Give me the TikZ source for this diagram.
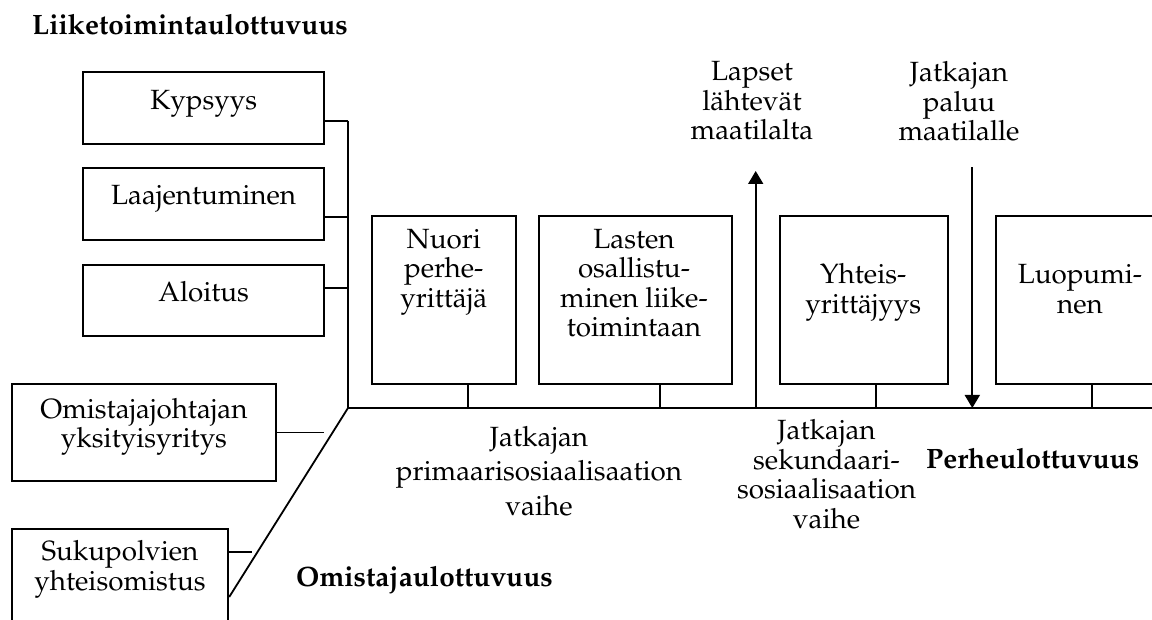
\documentclass[tikz,border=0pt]{standalone}
\usepackage[T1]{fontenc}
\usepackage{mathpazo}
\usetikzlibrary{arrows.meta}
\tikzset{
  box/.style={draw, line width=1.8pt, inner sep=0pt},
  ln/.style={line width=1.8pt},
  lbl/.style={anchor=base, align=center, inner sep=0pt, font=\fontsize{27.8}{29.5}\selectfont},
  lblwide/.style={lbl, font=\fontsize{27.8}{34.5}\selectfont},
  ttl/.style={anchor=base west, inner sep=0pt, font=\fontsize{28}{29.5}\selectfont\bfseries},
  arr/.style={ln, -{Triangle[length=13pt,width=15pt]}},
}
\begin{document}
\begin{tikzpicture}[x=1pt,y=-1pt]
\useasboundingbox (0,0) rectangle (1152,620);
\clip (0,0) rectangle (1152,620);

% boxes
\node[box, minimum width=240.7pt, minimum height=72.6pt] (kyp) at (203.7,108) {};
\node[box, minimum width=240.7pt, minimum height=71.7pt] (laa) at (203.7,204.2) {};
\node[box, minimum width=240.7pt, minimum height=71pt] (alo) at (203.7,300.5) {};
\node[box, minimum width=264.3pt, minimum height=96.4pt] (omj) at (143.8,432.5) {};
\node[box, minimum width=216.6pt, minimum height=131pt] (suk) at (120,594.5) {};
\node[box, minimum width=144.3pt, minimum height=168pt] (nuo) at (443.8,300) {};
\node[box, minimum width=193pt, minimum height=168pt] (las) at (635.8,300) {};
\node[box, minimum width=168.3pt, minimum height=168pt] (yht) at (864.2,300) {};
\node[box, minimum width=224.3pt, minimum height=168pt] (luo) at (1107.8,300) {};

% coordinates
\coordinate (k1) at (348,120.7);
\coordinate (l1) at (348,216.7);
\coordinate (a1) at (348,288.3);
\coordinate (corner) at (348,408);
\coordinate (axisEnd) at (1160,408);
\coordinate (dEnd) at (228.3,597);
\coordinate (o1) at (324,432.5);
\coordinate (s1) at (252,552);
\coordinate (t1) at (467.7,408);
\coordinate (t2) at (660,408);
\coordinate (t3) at (876,408);
\coordinate (t4) at (1092.3,408);
\coordinate (upB) at (755.7,408);
\coordinate (upT) at (755.7,171);
\coordinate (dnT) at (972.3,167.3);
\coordinate (dnB) at (972.3,408);

% connectors
\draw[ln] (kyp.east |- k1) -- (k1);
\draw[ln] (laa.east |- l1) -- (l1);
\draw[ln] (alo.east |- a1) -- (a1);
\draw[ln] (k1) -- (corner) -- (axisEnd);
\draw[ln] (corner) -- (suk.east |- dEnd);
\draw[ln] (omj.east) -- (o1);
\draw[ln] (suk.east |- s1) -- (s1);
\draw[ln] (nuo.south -| t1) -- (t1);
\draw[ln] (las.south -| t2) -- (t2);
\draw[ln] (yht.south -| t3) -- (t3);
\draw[ln] (luo.south -| t4) -- (t4);
\draw[arr] (upB) -- (upT);
\draw[arr] (dnT) -- (dnB);

% titles
\node[ttl] (tBus) at (32,35) {Liiketoimintaulottuvuus};
\node[ttl] (tOwn) at (296,586.7) {Omistajaulottuvuus};
\node[ttl] (tFam) at (926,468.3) {Perheulottuvuus};

% labels (anchor = baseline of the last line)
\node[lbl] (kypT) at (203.7,110) {Kypsyys};
\node[lbl] (laaT) at (203.7,205) {Laajentuminen};
\node[lbl] (aloT) at (203.7,301.7) {Aloitus};
\node[lbl] (omjT) at (144,447.7) {Omistajajohtajan\\yksityisyritys};
\node[lbl] (sukT) at (120,590) {Sukupolvien\\yhteisomistus};
\node[lbl] (nuoT) at (443.8,307.3) {Nuori\\perhe-\\yrittäjä};
\node[lbl] (lasT) at (634,336.7) {Lasten\\osallistu-\\minen liike-\\toimintaan};
\node[lbl] (lapT) at (752,140) {Lapset\\lähtevät\\maatilalta};
\node[lbl] (jatT) at (959,140.7) {Jatkajan\\paluu\\maatilalle};
\node[lbl] (yhtT) at (863.3,313.3) {Yhteis-\\yrittäjyys};
\node[lbl] (luoT) at (1080,313.3) {Luopumi-\\nen};
\node[lblwide] (priT) at (539,515) {Jatkajan\\primaarisosiaalisaation\\vaihe};
\node[lbl] (sekT) at (826.5,528.3) {Jatkajan\\sekundaari-\\sosiaalisaation\\vaihe};
\end{tikzpicture}
\end{document}
